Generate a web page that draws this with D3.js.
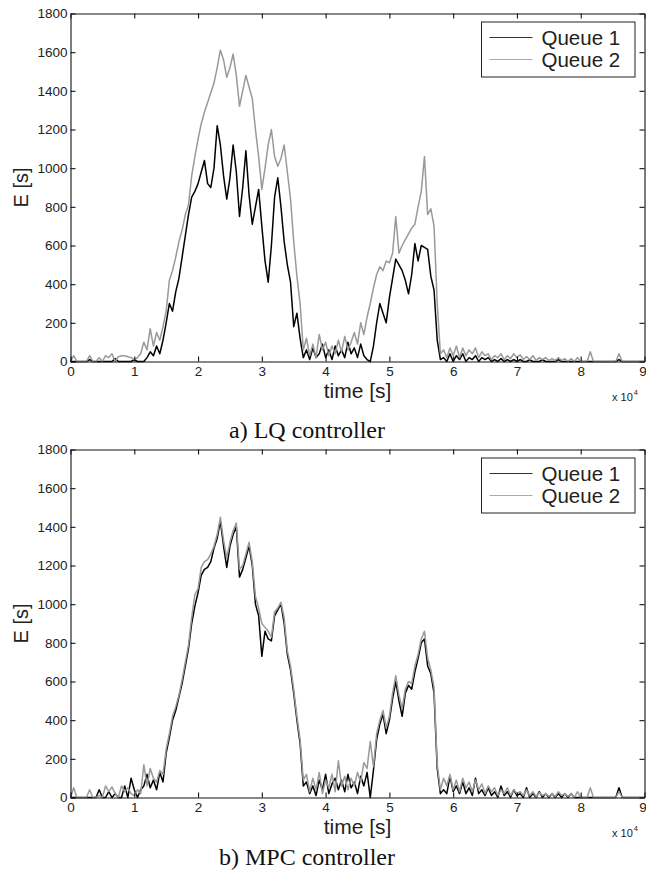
<!DOCTYPE html>
<html>
<head>
<meta charset="utf-8">
<script src="https://cdn.jsdelivr.net/npm/d3@7/dist/d3.min.js"></script>
<style>
	body { margin: 0; background: #fff; }
	text { fill: #222; }
</style>
</head>
<body>
<div id="plot"></div>
<script>

// sample spacing, in units of 10^4 s
const sample_step = 0.05;

const x_ticks = [ 0, 1, 2, 3, 4, 5, 6, 7, 8, 9 ];
const y_ticks = [ 0, 200, 400, 600, 800, 1000, 1200, 1400, 1600, 1800 ];
const series_names = [ "Queue 1", "Queue 2" ];
const captions = [ "a) LQ controller", "b) MPC controller" ];

// a) LQ controller, one row = 0.5 x 10^4 s
const lq_queue1 = [
	0, 0, 0, 0, 0, 0, 10, 0, 0, 0,
	0, 0, 0, 0, 15, 0, 0, 0, 0, 0,
	10, 0, 0, 0, 20, 50, 30, 80, 40, 110,
	200, 300, 260, 360, 430, 540, 650, 760, 850, 880,
	920, 980, 1040, 920, 900, 1000, 1220, 1120, 960, 840,
	950, 1120, 980, 750, 900, 1090, 860, 710, 800, 890,
	700, 520, 410, 600, 850, 950, 800, 620, 500, 410,
	180, 250, 120, 20, 60, 10, 70, 20, 40, 90,
	20, 60, 10, 80, 30, 60, 20, 100, 40, 70,
	20, 90, 30, 10, 0, 80, 200, 300, 250, 200,
	330, 430, 530, 500, 470, 420, 350, 450, 610, 520,
	600, 590, 580, 440, 370, 110, 10, 20, 0, 40,
	0, 30, 10, 40, 0, 20, 10, 30, 0, 20,
	10, 20, 0, 10, 0, 15, 0, 10, 0, 10,
	0, 10, 0, 0, 10, 0, 0, 0, 10, 0,
	0, 0, 0, 10, 0, 0, 0, 0, 0, 0,
	0, 0, 0, 0, 0, 0, 0, 0, 0, 0,
	0, 0, 10, 0, 0, 0, 0, 0, 0, 0,
	0
];
const lq_queue2 = [
	0, 30, 0, 0, 0, 0, 30, 0, 0, 20,
	0, 30, 20, 40, 0, 25, 30, 30, 25, 20,
	10, 20, 40, 100, 60, 170, 80, 150, 110, 180,
	260, 420, 470, 540, 620, 680, 760, 810, 960, 1060,
	1150, 1230, 1290, 1340, 1390, 1440, 1520, 1610, 1560, 1470,
	1520, 1590, 1480, 1320, 1400, 1480, 1420, 1360, 1200, 1060,
	890, 1000, 1120, 1200, 1060, 1010, 1050, 1120, 980, 840,
	620, 440, 300, 60, 120, 30, 90, 20, 140, 60,
	100, 30, 80, 40, 110, 50, 130, 60, 100, 150,
	90, 200, 140, 230, 300, 380, 450, 490, 470, 520,
	510, 560, 750, 560, 600, 630, 660, 690, 710, 800,
	880, 1060, 760, 790, 700, 300, 40, 60, 20, 70,
	30, 80, 20, 70, 30, 60, 40, 70, 20, 50,
	30, 40, 10, 30, 20, 40, 10, 30, 15, 40,
	20, 35, 10, 25, 10, 30, 5, 20, 10, 20,
	5, 15, 5, 20, 5, 15, 0, 15, 0, 20,
	0, 0, 0, 50, 0, 0, 0, 0, 0, 0,
	0, 0, 40, 0, 0, 0, 0, 0, 0, 0,
	0
];

// b) MPC controller
const mpc_queue1 = [
	0, 0, 0, 0, 0, 0, 0, 0, 0, 40,
	0, 0, 30, 0, 20, 0, 0, 60, 0, 100,
	40, 0, 40, 60, 120, 50, 90, 40, 130, 80,
	230, 310, 400, 450, 520, 590, 680, 770, 900, 990,
	1060, 1150, 1180, 1190, 1220, 1290, 1340, 1430, 1300, 1190,
	1300, 1360, 1400, 1140, 1180, 1240, 1300, 1200, 1000, 940,
	730, 860, 820, 810, 940, 970, 1000, 900, 740, 660,
	540, 400, 280, 60, 80, 20, 60, 10, 90, 40,
	120, 20, 70, 100, 40, 90, 30, 120, 50, 80,
	20, 110, 60, 130, 0, 140, 300, 380, 430, 330,
	400, 510, 600, 500, 420, 540, 580, 560, 650, 720,
	800, 820, 680, 640, 540, 150, 20, 40, 20, 110,
	30, 60, 20, 80, 20, 50, 10, 100, 20, 40,
	10, 50, 10, 30, 0, 60, 10, 30, 0, 40,
	10, 20, 0, 50, 0, 20, 0, 30, 0, 20,
	0, 20, 0, 20, 0, 20, 0, 20, 0, 0,
	0, 0, 0, 0, 0, 0, 0, 0, 0, 0,
	0, 0, 50, 0, 0, 0, 0, 0, 0, 0,
	0
];
const mpc_queue2 = [
	0, 50, 0, 0, 0, 0, 40, 0, 0, 10,
	0, 60, 30, 55, 20, 0, 60, 30, 50, 20,
	10, 40, 20, 170, 60, 150, 100, 80, 140, 120,
	250, 330, 420, 470, 530, 610, 700, 790, 930, 1050,
	1080, 1190, 1220, 1230, 1260, 1300, 1360, 1450, 1330, 1240,
	1320, 1380, 1420, 1180, 1200, 1260, 1320, 1220, 1040, 980,
	900, 880, 860, 830, 960, 980, 1010, 930, 760, 680,
	560, 420, 300, 90, 120, 30, 100, 40, 130, 20,
	90, 50, 120, 30, 190, 60, 110, 40, 100, 60,
	130, 80, 180, 150, 290, 160, 330, 400, 450, 360,
	420, 540, 630, 530, 460, 560, 600, 590, 680, 740,
	820, 860, 720, 660, 570, 170, 40, 100, 60, 120,
	40, 90, 30, 100, 50, 80, 30, 90, 40, 70,
	20, 60, 30, 50, 10, 40, 20, 50, 10, 40,
	20, 30, 10, 40, 10, 30, 5, 25, 10, 20,
	5, 20, 5, 30, 10, 20, 5, 20, 0, 30,
	0, 0, 0, 50, 0, 0, 0, 0, 0, 0,
	0, 0, 30, 0, 0, 0, 0, 0, 0, 0,
	0
];

///////////////////////////////////////////////////////////////////////

const width = 646, height = 876;
const series_colors = [ "#000", "#999" ];

let svg = d3.select( "#plot" )
	.append( "svg" )
		.attr( "width", width )
		.attr( "height", height )
		.style( "font-family", "'Liberation Sans', Arial, sans-serif" );

let x = d3.scaleLinear()
	.domain( [ 0, 9 ] )
	.range( [ 70.5, 644.5 ] );

draw_panel( 13.5, [ lq_queue1, lq_queue2 ], captions[ 0 ], 437.5 );
draw_panel( 449.5, [ mpc_queue1, mpc_queue2 ], captions[ 1 ], 865 );

function draw_panel( top, series, caption, caption_y )	{

	let bottom = top + 348;
	let y = d3.scaleLinear()
		.domain( [ 0, 1800 ] )
		.range( [ bottom, top ] );

	let g = svg.append( "g" );

	let line = d3.line()
		.x( ( d, i ) => x( i * sample_step ) )
		.y( d => y( d ) );

	// black first, grey drawn over it
	series.forEach( ( values, k ) => {
		g.append( "path" )
			.datum( values )
			.attr( "fill", "none" )
			.attr( "stroke", series_colors[ k ] )
			.attr( "stroke-width", 1.5 )
			.attr( "stroke-linejoin", "round" )
			.attr( "d", line );
	} );

	let tick = 5;

	g.append( "g" )
		.attr( "transform", `translate(0,${ bottom })` )
		.call( d3.axisBottom( x ).tickValues( x_ticks ).tickSize( -tick ).tickSizeOuter( 0 ).tickPadding( 4 ).tickFormat( d3.format( "d" ) ) )
		.call( a => a.selectAll( "text" ).attr( "font-size", 13.5 ).attr( "font-family", null ).attr( "dy", "0.76em" ) )
		.call( a => a.selectAll( "text" ).filter( d => d == 9 ).attr( "dx", -2 ) );

	g.append( "g" )
		.attr( "transform", `translate(0,${ top })` )
		.call( d3.axisTop( x ).tickValues( x_ticks ).tickSize( -tick ).tickSizeOuter( 0 ).tickFormat( "" ) );

	g.append( "g" )
		.attr( "transform", `translate(${ x.range()[ 0 ] },0)` )
		.call( d3.axisLeft( y ).tickValues( y_ticks ).tickSize( -tick ).tickSizeOuter( 0 ).tickPadding( 3 ).tickFormat( d3.format( "d" ) ) )
		.call( a => a.selectAll( "text" ).attr( "font-size", 13.5 ).attr( "font-family", null ) );

	g.append( "g" )
		.attr( "transform", `translate(${ x.range()[ 1 ] },0)` )
		.call( d3.axisRight( y ).tickValues( y_ticks ).tickSize( -tick ).tickSizeOuter( 0 ).tickFormat( "" ) );

	g.selectAll( ".domain, .tick line" )
		.attr( "stroke", "#111" )
		.attr( "stroke-width", 1.1 );

	// axis labels
	g.append( "text" )
		.attr( "x", ( x.range()[ 0 ] + x.range()[ 1 ] ) / 2 )
		.attr( "y", bottom + 36.5 )
		.attr( "text-anchor", "middle" )
		.attr( "font-size", 21 )
		.text( "time [s]" );

	g.append( "text" )
		.attr( "transform", `translate(28,${ ( top + bottom ) / 2 }) rotate(-90)` )
		.attr( "text-anchor", "middle" )
		.attr( "font-size", 20 )
		.text( "E [s]" );

	let mult = g.append( "text" )
		.attr( "x", 612 )
		.attr( "y", bottom + 39 )
		.attr( "font-size", 11 );
	mult.append( "tspan" ).text( "x 10" );
	mult.append( "tspan" )
		.attr( "font-size", 7.5 )
		.attr( "dy", -6 )
		.attr( "dx", 1 )
		.text( "4" );

	// legend
	let lg = g.append( "g" )
		.attr( "transform", `translate(481.5,${ top + 8.5 })` );
	lg.append( "rect" )
		.attr( "width", 153.5 )
		.attr( "height", 55 )
		.attr( "fill", "#fff" )
		.attr( "stroke", "#222" )
		.attr( "stroke-width", 1 );
	series_names.forEach( ( name, k ) => {
		let ly = 15.5 + k * 22;
		lg.append( "line" )
			.attr( "x1", 8 )
			.attr( "x2", 51 )
			.attr( "y1", ly )
			.attr( "y2", ly )
			.attr( "stroke", k == 0 ? "#333" : "#aaa" )
			.attr( "stroke-width", 1.2 );
		lg.append( "text" )
			.attr( "x", 60 )
			.attr( "y", ly + 7 )
			.attr( "font-size", 20.5 )
			.text( name );
	} );

	// caption under the panel
	svg.append( "text" )
		.attr( "x", 307 )
		.attr( "y", caption_y )
		.attr( "text-anchor", "middle" )
		.attr( "font-family", "'Liberation Serif', 'Times New Roman', serif" )
		.attr( "font-size", 24 )
		.style( "fill", "#111" )
		.text( caption );
}

</script>
</body>
</html>
